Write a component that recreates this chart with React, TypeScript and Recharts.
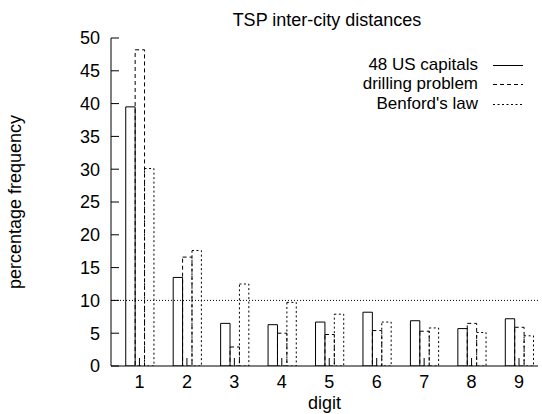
import { BarChart, Bar, XAxis, YAxis, ReferenceLine, Legend, Label } from "recharts";

// percentage frequency of the leading digit
const digits = [1, 2, 3, 4, 5, 6, 7, 8, 9];
const usCapitals = [39.5, 13.5, 6.5, 6.3, 6.7, 8.2, 6.9, 5.7, 7.2];
const drillingProblem = [48.2, 16.6, 2.9, 5.0, 4.8, 5.4, 5.3, 6.5, 5.9];
const benfordsLaw = [30.1, 17.6, 12.5, 9.7, 7.9, 6.7, 5.8, 5.1, 4.6];
const yTicks = [0, 5, 10, 15, 20, 25, 30, 35, 40, 45, 50];
const uniformLevel = 10;

const data = digits.map((d, i) => ({
  digit: d,
  capitals: usCapitals[i],
  drilling: drillingProblem[i],
  benford: benfordsLaw[i],
}));

const FONT = "'Liberation Sans', Arial, Helvetica, sans-serif";
const FS = 18;
const TICK = 8;

const seriesOrder = ["capitals", "drilling", "benford"];
const dashes: Record<string, string | undefined> = {
  capitals: undefined,
  drilling: "4 3",
  benford: "2 2.5",
};

const BottomTick = (p: any) => {
  const axisY = p.y - 9;
  return (
    <g>
      <line x1={p.x} x2={p.x} y1={axisY} y2={axisY - TICK} stroke="#000" />
      <text x={p.x} y={p.y} dy="0.71em" textAnchor="middle" fontSize={FS} fontFamily={FONT} fill="#000">
        {p.payload.value}
      </text>
    </g>
  );
};

const TopTick = (p: any) => (
  <line x1={p.x} x2={p.x} y1={p.y} y2={p.y + TICK} stroke="#000" />
);

const LeftTick = (p: any) => {
  const axisX = p.x + 11;
  return (
    <g>
      <line x1={axisX} x2={axisX + TICK} y1={p.y} y2={p.y} stroke="#000" />
      <text x={p.x} y={p.y} dy="0.355em" textAnchor="end" fontSize={FS} fontFamily={FONT} fill="#000">
        {p.payload.value}
      </text>
    </g>
  );
};

const RightTick = (p: any) => (
  <line x1={p.x} x2={p.x - TICK} y1={p.y} y2={p.y} stroke="#000" />
);

const YTitle = (props: any) => {
  const vb = props.viewBox;
  const x = vb.x + 21;
  const y = vb.y + vb.height / 2;
  return (
    <text x={x} y={y} transform={`rotate(-90 ${x} ${y})`} textAnchor="middle" fontSize={FS} fontFamily={FONT} fill="#000">
      percentage frequency
    </text>
  );
};

const LegendBox = ({ payload }: any) => (
  <div style={{ fontFamily: FONT, fontSize: 17, color: "#000" }}>
    {(payload || []).map((e: any) => (
      <div key={e.dataKey} style={{ display: "flex", justifyContent: "flex-end", alignItems: "center", height: 19.6 }}>
        <span>{e.value}</span>
        <svg width={30} height={18} style={{ marginLeft: 15 }}>
          <line x1={0} x2={30} y1={9.5} y2={9.5} stroke="#000" strokeDasharray={dashes[e.dataKey]} />
        </svg>
      </div>
    ))}
  </div>
);

export default function App() {
  return (
    <div style={{ position: "absolute", left: 0, top: 0, width: 542, height: 414, background: "#fff" }}>
      <div
        style={{
          position: "absolute",
          left: 111,
          top: 11,
          width: 432,
          textAlign: "center",
          fontFamily: FONT,
          fontSize: FS,
          lineHeight: "18px",
          color: "#000",
          zIndex: 1,
        }}
      >
        TSP inter-city distances
      </div>
      <BarChart
        width={542}
        height={414}
        data={data}
        margin={{ top: 38, right: 4, bottom: 0, left: 0 }}
        barGap={0}
        barSize={9.4}
        style={{ fontFamily: FONT }}
      >
        <XAxis
          xAxisId="b"
          dataKey="digit"
          type="number"
          domain={[0.4, 9.4]}
          allowDataOverflow
          ticks={digits}
          height={48}
          tickSize={0}
          tickMargin={9}
          tickLine={false}
          axisLine={{ stroke: "#000" }}
          tick={BottomTick}
        >
          <Label value="digit" position="insideBottom" offset={5} style={{ fontSize: FS, fontFamily: FONT, fill: "#000" }} />
        </XAxis>
        <XAxis
          xAxisId="t"
          orientation="top"
          type="number"
          domain={[0.4, 9.4]}
          allowDataOverflow
          ticks={digits}
          height={0}
          tickSize={0}
          tickMargin={0}
          tickLine={false}
          axisLine={{ stroke: "#000" }}
          tick={TopTick}
        />
        <YAxis
          yAxisId="l"
          type="number"
          domain={[0, 50]}
          allowDataOverflow
          ticks={yTicks}
          width={111}
          tickSize={0}
          tickMargin={11}
          tickLine={false}
          axisLine={{ stroke: "#000" }}
          tick={LeftTick}
        >
          <Label content={YTitle} />
        </YAxis>
        <YAxis
          yAxisId="r"
          orientation="right"
          type="number"
          domain={[0, 50]}
          allowDataOverflow
          ticks={yTicks}
          width={0}
          tickSize={0}
          tickMargin={0}
          tickLine={false}
          axisLine={{ stroke: "#000" }}
          tick={RightTick}
        />
        <ReferenceLine xAxisId="b" yAxisId="l" y={uniformLevel} stroke="#000" strokeDasharray="1 2" />
        <Bar xAxisId="b" yAxisId="l" dataKey="capitals" name="48 US capitals" fill="none" stroke="#000" isAnimationActive={false} />
        <Bar xAxisId="b" yAxisId="l" dataKey="drilling" name="drilling problem" fill="none" stroke="#000" strokeDasharray={dashes.drilling} isAnimationActive={false} />
        <Bar xAxisId="b" yAxisId="l" dataKey="benford" name="Benford's law" fill="none" stroke="#000" strokeDasharray={dashes.benford} isAnimationActive={false} />
        <Legend
          layout="horizontal"
          verticalAlign="middle"
          align="center"
          content={LegendBox}
          itemSorter={(e: any) => seriesOrder.indexOf(e.dataKey)}
          wrapperStyle={{ top: 55, right: 19, left: "auto", width: "auto" }}
        />
      </BarChart>
    </div>
  );
}
